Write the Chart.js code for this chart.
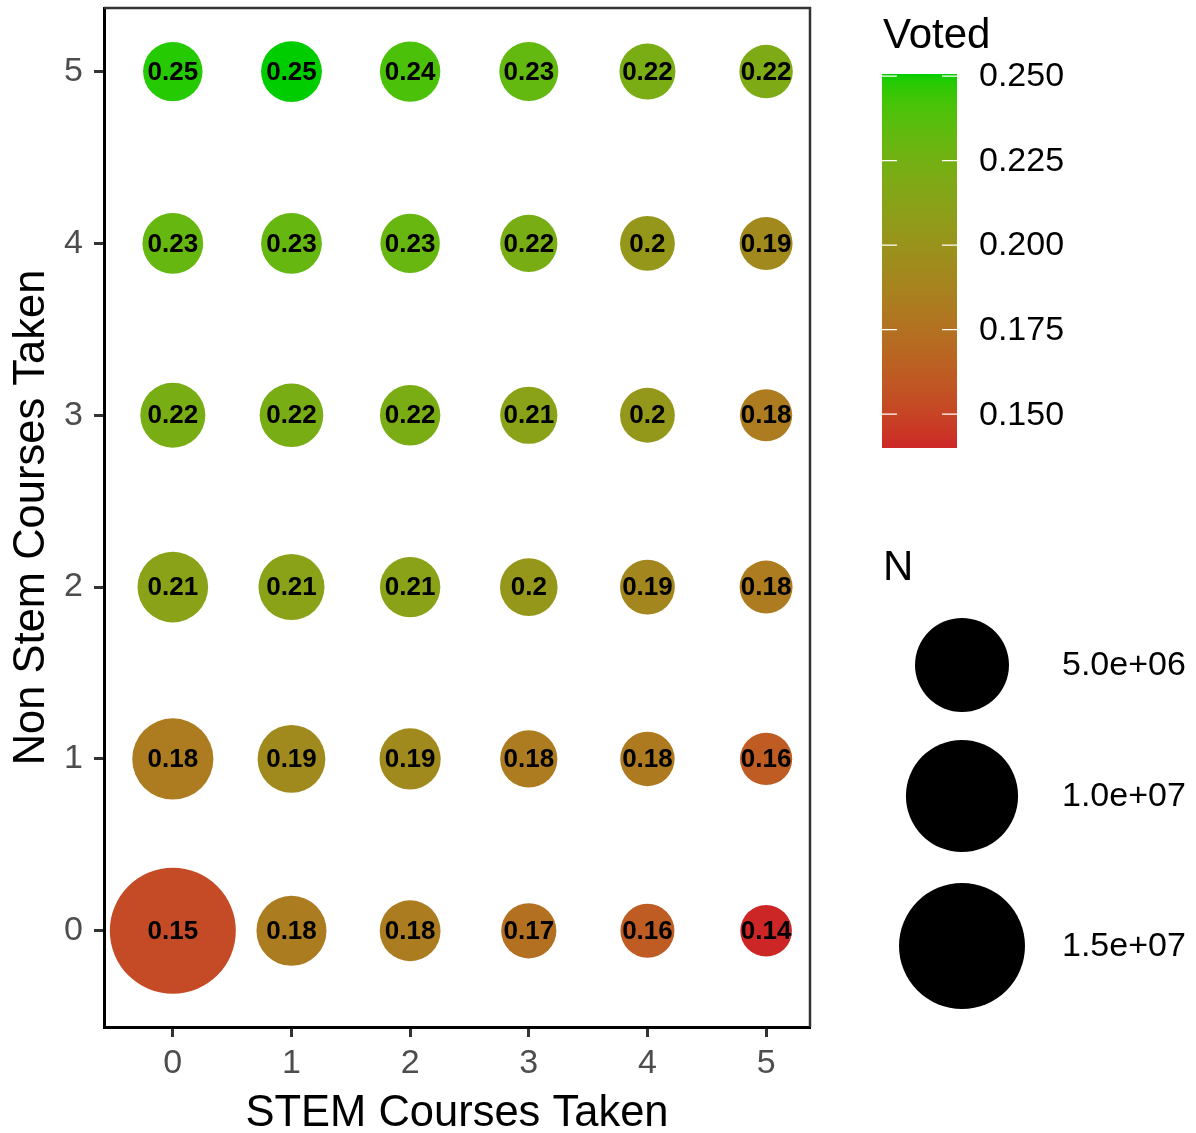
<!DOCTYPE html>
<html>
<head>
<meta charset="utf-8">
<style>
  html, body { margin: 0; padding: 0; background: #ffffff; }
  #wrap { width: 1196px; height: 1133px; }
</style>
<script src="https://cdn.jsdelivr.net/npm/chart.js@4/dist/chart.umd.min.js"></script>
</head>
<body>
<div id="wrap"><canvas id="c" width="1196" height="1133"></canvas></div>
<script>
// ---------------- DATA ----------------
const stemCourses = [0, 1, 2, 3, 4, 5];          // x categories
const nonStemCourses = [0, 1, 2, 3, 4, 5];       // y categories
// voted[nonStem][stem]
const voted = [
  [0.153, 0.183, 0.183, 0.174, 0.162, 0.140],
  [0.182, 0.193, 0.193, 0.182, 0.181, 0.162],
  [0.212, 0.212, 0.212, 0.203, 0.191, 0.182],
  [0.222, 0.222, 0.221, 0.212, 0.204, 0.182],
  [0.231, 0.231, 0.230, 0.222, 0.203, 0.192],
  [0.248, 0.2506, 0.240, 0.232, 0.221, 0.219]
];
// nCount[nonStem][stem]
const nCount = [
  [1.50e7, 1.11e6, 4.26e5, 2.35e5, 2.15e5, 2.00e5],
  [2.54e6, 9.00e5, 4.46e5, 2.84e5, 2.21e5, 2.01e5],
  [1.17e6, 7.54e5, 4.07e5, 2.96e5, 2.27e5, 2.05e5],
  [6.80e5, 5.85e5, 4.07e5, 2.84e5, 2.27e5, 2.01e5],
  [4.26e5, 4.26e5, 3.63e5, 2.84e5, 2.27e5, 2.05e5],
  [3.63e5, 4.26e5, 4.07e5, 3.46e5, 2.52e5, 2.09e5]
];
const xTickValues = [0, 1, 2, 3, 4, 5];
const yTickValues = [0, 1, 2, 3, 4, 5];
const colorBreaks = [0.150, 0.175, 0.200, 0.225, 0.250];
const colorBreakLabels = ["0.150", "0.175", "0.200", "0.225", "0.250"];
const sizeBreaks = [5.0e6, 1.0e7, 1.5e7];
const sizeBreakLabels = ["5.0e+06", "1.0e+07", "1.5e+07"];

// ---------------- SCALES ----------------
const FONT = "'Liberation Sans', Arial, Helvetica, sans-serif";
const allV = voted.flat(), allN = nCount.flat();
const vMin = Math.min(...allV), vMax = Math.max(...allV);
const nMin = Math.min(...allN), nMax = Math.max(...allN);
const R_MIN = 25.8, R_MAX = 63;
function sizeOf(n) {
  const t = Math.max(0, (n - nMin) / (nMax - nMin));
  return R_MIN + (R_MAX - R_MIN) * Math.sqrt(t);
}
// Lab interpolation (like ggplot's scale_colour_gradient)
function lin(c) { c /= 255; return c <= 0.04045 ? c / 12.92 : Math.pow((c + 0.055) / 1.055, 2.4); }
function unlin(c) { const v = c <= 0.0031308 ? 12.92 * c : 1.055 * Math.pow(c, 1 / 2.4) - 0.055; return Math.round(Math.min(1, Math.max(0, v)) * 255); }
const Xn = 0.95047, Yn = 1, Zn = 1.08883;
function f(t) { return t > 0.008856 ? Math.cbrt(t) : 7.787 * t + 16 / 116; }
function finv(t) { return t > 0.206893 ? t * t * t : (t - 16 / 116) / 7.787; }
function toLab(hex) {
  const r = lin(parseInt(hex.slice(1, 3), 16)), g = lin(parseInt(hex.slice(3, 5), 16)), b = lin(parseInt(hex.slice(5, 7), 16));
  const X = 0.4124 * r + 0.3576 * g + 0.1805 * b, Y = 0.2126 * r + 0.7152 * g + 0.0722 * b, Z = 0.0193 * r + 0.1192 * g + 0.9505 * b;
  const fx = f(X / Xn), fy = f(Y / Yn), fz = f(Z / Zn);
  return [116 * fy - 16, 500 * (fx - fy), 200 * (fy - fz)];
}
function fromLab(L, a, b) {
  const fy = (L + 16) / 116, fx = fy + a / 500, fz = fy - b / 200;
  const X = Xn * finv(fx), Y = Yn * finv(fy), Z = Zn * finv(fz);
  const r = 3.2406 * X - 1.5372 * Y - 0.4986 * Z, g = -0.9689 * X + 1.8758 * Y + 0.0415 * Z, bb = 0.0557 * X - 0.2040 * Y + 1.0570 * Z;
  return 'rgb(' + unlin(r) + ',' + unlin(g) + ',' + unlin(bb) + ')';
}
const LOW = toLab('#CD2626'), HIGH = toLab('#00CD00');
function colorOf(v) {
  const t = Math.min(1, Math.max(0, (v - vMin) / (vMax - vMin)));
  return fromLab(LOW[0] + (HIGH[0] - LOW[0]) * t, LOW[1] + (HIGH[1] - LOW[1]) * t, LOW[2] + (HIGH[2] - LOW[2]) * t);
}
function fmtLabel(v) { return String(Math.round(v * 100) / 100); }

// ---------------- DATASET ----------------
const points = [];
nonStemCourses.forEach((ny, j) => {
  stemCourses.forEach((sx, i) => {
    points.push({ x: sx, y: ny, vi: i, vj: j });
  });
});

// ---------------- PLUGINS ----------------
const decor = {
  id: 'decor',
  beforeDatasetsDraw(chart) {
    const { ctx, chartArea: a } = chart;
    ctx.save();
    ctx.strokeStyle = '#333333';
    ctx.lineWidth = 2.5;
    ctx.beginPath();
    ctx.moveTo(a.left, a.top); ctx.lineTo(a.right, a.top); ctx.lineTo(a.right, a.bottom);
    ctx.stroke();
    ctx.restore();
  },
  afterDatasetsDraw(chart) {
    const { ctx } = chart;
    const meta = chart.getDatasetMeta(0);
    ctx.save();
    ctx.fillStyle = '#000000';
    ctx.font = 'bold 26px ' + FONT;
    ctx.textAlign = 'center';
    ctx.textBaseline = 'middle';
    meta.data.forEach((el, k) => {
      const p = points[k];
      ctx.fillText(fmtLabel(voted[p.vj][p.vi]), el.x, el.y + 1);
    });
    ctx.restore();
  },
  afterDraw(chart) {
    const { ctx, chartArea: a } = chart;
    ctx.save();
    // axis titles
    ctx.fillStyle = '#000000';
    ctx.font = '43.5px ' + FONT;
    ctx.textAlign = 'center';
    ctx.textBaseline = 'alphabetic';
    ctx.fillText('STEM Courses Taken', (a.left + a.right) / 2, 1126);
    ctx.save();
    ctx.translate(44, (a.top + a.bottom) / 2);
    ctx.rotate(-Math.PI / 2);
    ctx.fillText('Non Stem Courses Taken', 0, 0);
    ctx.restore();

    // colour legend
    ctx.textAlign = 'left';
    ctx.font = '42px ' + FONT;
    ctx.fillText('Voted', 883, 48);
    const bx = 882, bw = 75, bTop = 74, bBot = 448;
    for (let y = bTop; y < bBot; y++) {
      const v = vMax - ((y + 0.5 - bTop) / (bBot - bTop)) * (vMax - vMin);
      ctx.fillStyle = colorOf(v);
      ctx.fillRect(bx, y, bw, 1);
    }
    const yOfV = v => bTop + (vMax - v) / (vMax - vMin) * (bBot - bTop);
    ctx.strokeStyle = '#ffffff';
    ctx.lineWidth = 1.2;
    ctx.font = '34px ' + FONT;
    ctx.textBaseline = 'middle';
    colorBreaks.forEach((v, k) => {
      const y = yOfV(v);
      ctx.beginPath();
      ctx.moveTo(bx, y); ctx.lineTo(bx + 15, y);
      ctx.moveTo(bx + bw - 15, y); ctx.lineTo(bx + bw, y);
      ctx.stroke();
      ctx.fillStyle = '#000000';
      ctx.fillText(colorBreakLabels[k], 979, y + 1);
    });

    // size legend
    ctx.textBaseline = 'alphabetic';
    ctx.font = '42px ' + FONT;
    ctx.fillText('N', 883, 580);
    const centersY = [665, 796, 946];
    ctx.font = '34px ' + FONT;
    ctx.textBaseline = 'middle';
    sizeBreaks.forEach((n, k) => {
      ctx.fillStyle = '#000000';
      ctx.beginPath();
      ctx.arc(962, centersY[k], sizeOf(n), 0, Math.PI * 2);
      ctx.fill();
      ctx.fillText(sizeBreakLabels[k], 1062, centersY[k] + 1);
    });
    ctx.restore();
  }
};

function noPad(s) { s.paddingTop = 0; s.paddingBottom = 0; s.paddingLeft = 0; s.paddingRight = 0; }

// ---------------- CHART ----------------
new Chart(document.getElementById('c'), {
  type: 'bubble',
  data: {
    datasets: [{
      data: points,
      radius: ctx => sizeOf(nCount[ctx.raw.vj][ctx.raw.vi]),
      backgroundColor: ctx => colorOf(voted[ctx.raw.vj][ctx.raw.vi]),
      borderWidth: 0,
      hoverRadius: 0
    }]
  },
  options: {
    responsive: false,
    animation: false,
    events: [],
    devicePixelRatio: 1,
    layout: { autoPadding: false, padding: { top: 8, right: 386, left: 0, bottom: 0 } },
    plugins: { legend: { display: false }, tooltip: { enabled: false } },
    scales: {
      x: {
        type: 'linear',
        min: -0.58, max: 5.37,
        afterBuildTicks: s => { s.ticks = xTickValues.map(v => ({ value: v })); },
        afterFit: s => { s.height = 106; noPad(s); },
        grid: { drawOnChartArea: false, drawTicks: true, tickLength: 10, tickWidth: 3, tickColor: '#333333' },
        border: { display: true, color: '#000000', width: 3 },
        ticks: { color: '#4D4D4D', font: { family: FONT, size: 34 }, padding: 6, maxRotation: 0, autoSkip: false }
      },
      y: {
        type: 'linear',
        min: -0.56, max: 5.37,
        afterBuildTicks: s => { s.ticks = yTickValues.map(v => ({ value: v })); },
        afterFit: s => { s.width = 104; noPad(s); },
        grid: { drawOnChartArea: false, drawTicks: true, tickLength: 10, tickWidth: 3, tickColor: '#333333' },
        border: { display: true, color: '#000000', width: 3 },
        ticks: { color: '#4D4D4D', font: { family: FONT, size: 34 }, padding: 11, autoSkip: false }
      }
    }
  },
  plugins: [decor]
});
</script>
</body>
</html>
